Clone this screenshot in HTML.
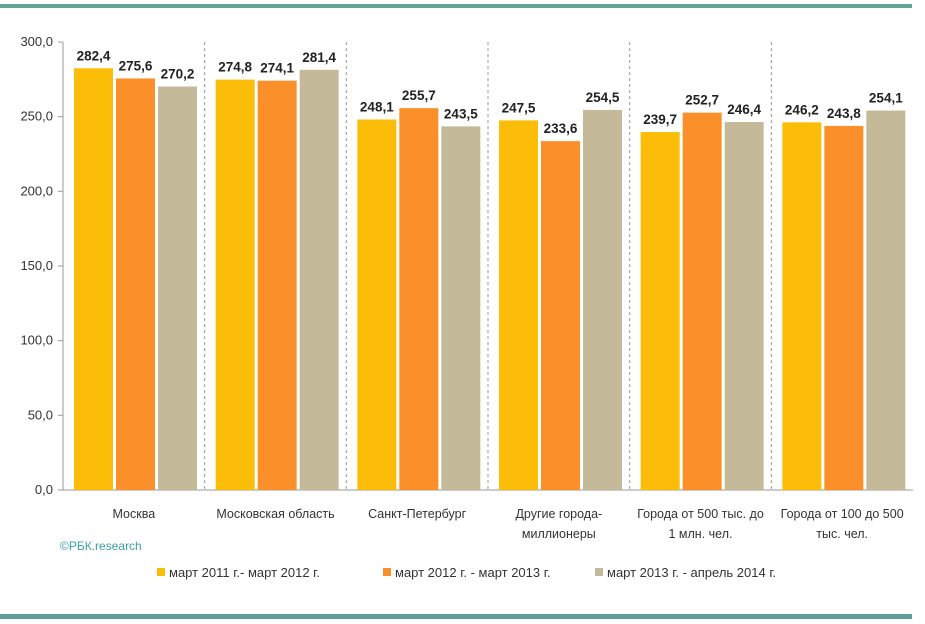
<!DOCTYPE html>
<html><head><meta charset="utf-8"><style>
body{margin:0;background:#fff;}
svg{display:block;font-family:"Liberation Sans","Noto Sans CJK SC",sans-serif;}
</style></head><body>
<svg id="c" width="925" height="624">
<rect x="0" y="4" width="912" height="4" fill="#5fa898"/>
<rect x="0" y="614" width="912" height="5" fill="#5f9c9c"/>
<text x="60" y="550" font-size="12" fill="#3aa0a8">©РБК.research</text>
<g id="legend"></g>
</svg>
<script>
const categories=[["Москва"],["Московская область"],["Санкт-Петербург"],["Другие города-","миллионеры"],["Города от 500 тыс. до","1 млн. чел."],["Города от 100 до 500","тыс. чел."]];
const s1=[282.4,274.8,248.1,247.5,239.7,246.2];
const s2=[275.6,274.1,255.7,233.6,252.7,243.8];
const s3=[270.2,281.4,243.5,254.5,246.4,254.1];
const seriesNames=["март 2011 г.- март 2012 г.","март 2012 г. - март 2013 г.","март 2013 г. - апрель 2014 г."];
const yTicks=[0,50,100,150,200,250,300];
const colors=["#fbbd08","#fb8f2a","#c4b998"];
const svg=document.getElementById('c');const NS="http://www.w3.org/2000/svg";
const X0=63,X1=913,Y0=490,Y1=42,YMAX=300;
const gw=(X1-X0)/categories.length;
const y=v=>Y0-(v/YMAX)*(Y0-Y1);
const fmt=v=>v.toFixed(1).replace('.',',');
function mk(t,a,txt){const e=document.createElementNS(NS,t);for(const k in a)e.setAttribute(k,a[k]);if(txt!==undefined)e.textContent=txt;svg.appendChild(e);return e;}
yTicks.forEach(t=>{
 const l=mk('line',{x1:X0-5,x2:X0,y1:y(t),y2:y(t),stroke:'#999'});
 
 
 const tx=mk('text',{x:X0-10,y:y(t)+4,'font-size':13,'text-anchor':'end',fill:'#333'},fmt(t));
 
 
});
const ax=mk('line',{x1:X0,x2:X0,y1:Y1,y2:Y0,stroke:'#999'});


const xa=mk('line',{x1:X0,x2:X1,y1:Y0,y2:Y0,stroke:'#999'});


const series=[s1,s2,s3];const bw=39,gap=3,off=11;
categories.forEach((c,i)=>{
 const gx=X0+i*gw;
 if(i>0){const d=mk('line',{x1:gx,x2:gx,y1:Y1,y2:Y0,stroke:'#999','stroke-dasharray':'3,3'});
  
  }
 series.forEach((s,j)=>{
  const bx=gx+off+j*(bw+gap);
  const r=mk('rect',{x:bx,y:y(s[i]),width:bw,height:Y0-y(s[i]),fill:colors[j]});
  
  
  const t=mk('text',{x:bx+bw/2,y:y(s[i])-8,'font-size':13.5,'font-weight':'bold','text-anchor':'middle',fill:'#222'},fmt(s[i]));
  
  
 });
 c.forEach((line,k)=>{
  const t=mk('text',{x:gx+gw/2,y:518+k*20,'font-size':12.5,'text-anchor':'middle',fill:'#333'},line);
  
  
 });
});
let lx=157;
seriesNames.forEach((n,j)=>{
 const r=mk('rect',{x:lx,y:568,width:8,height:8,fill:colors[j]});
 
 
 const t=mk('text',{x:lx+12,y:577,'font-size':13,fill:'#333'},n);
 
 
 lx+=[226,212,0][j];
});
</script>
</body></html>
